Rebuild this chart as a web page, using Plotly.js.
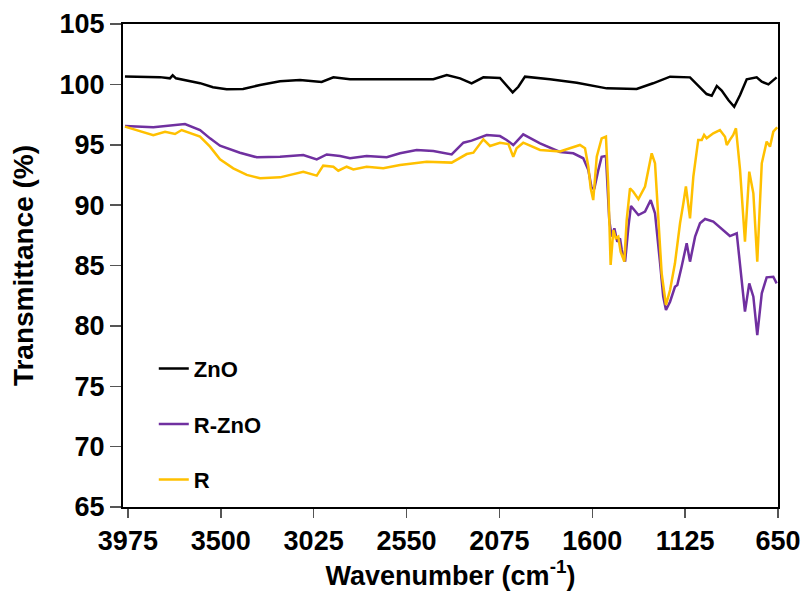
<!DOCTYPE html>
<html>
<head>
<meta charset="utf-8">
<script src="https://cdn.plot.ly/plotly-3.0.1.min.js"></script>
<style>html,body{margin:0;padding:0;background:#fff;}#chart{width:804px;height:596px;}</style>
</head>
<body>
<div id="chart"></div>
<script>
// Wavenumber (cm-1) and transmittance (%)
const znoWn = [3990,3811,3760,3746,3729,3674,3606,3540,3470,3386,3299,3197,3095,2984,2924,2839,2670,2583,2413,2344,2276,2217,2157,2072,2038,2007,1978,1944,1816,1679,1526,1373,1289,1202,1100,1049,1015,989,963,938,904,874,844,810,759,733,699,657];
const znoT  = [100.65,100.6,100.5,100.75,100.5,100.3,100.1,99.76,99.6,99.62,99.95,100.25,100.36,100.2,100.58,100.42,100.42,100.46,100.42,100.78,100.5,100.09,100.58,100.53,99.95,99.34,99.8,100.64,100.42,100.14,99.67,99.62,100.09,100.64,100.58,99.76,99.2,99.06,99.87,99.48,98.7,98.15,99.12,100.42,100.58,100.22,100.0,100.58];

const rznoWn = [3990,3845,3683,3606,3555,3504,3402,3316,3197,3078,3009,2958,2890,2839,2754,2651,2583,2498,2413,2319,2259,2217,2140,2072,2038,2004,1953,1867,1765,1697,1646,1620,1603,1589,1569,1552,1530,1513,1501,1487,1472,1458,1449,1432,1415,1402,1364,1330,1301,1279,1253,1237,1223,1202,1177,1165,1143,1117,1100,1074,1049,1023,981,930,896,861,836,819,797,776,756,733,708,674,657];
const rznoT  = [96.55,96.44,96.72,96.22,95.53,94.92,94.34,93.96,94.0,94.15,93.79,94.2,94.07,93.88,94.07,93.96,94.3,94.57,94.48,94.2,95.17,95.34,95.81,95.72,95.4,94.98,95.86,95.12,94.4,94.29,93.88,92.9,91.39,91.4,92.9,94.0,94.07,88.77,87.39,88.08,86.97,87.25,86.28,85.32,88.22,89.93,89.18,89.46,90.42,89.32,85.18,82.42,81.32,82.0,83.24,83.38,84.9,86.84,85.32,87.39,88.5,88.85,88.63,87.94,87.44,87.67,84.07,81.18,83.52,82.42,79.24,82.7,84.02,84.07,83.52];

const rWn = [3990,3913,3845,3785,3734,3700,3657,3606,3555,3504,3436,3367,3299,3197,3078,3009,2976,2924,2899,2856,2822,2754,2669,2583,2447,2319,2242,2208,2157,2123,2072,2029,2004,1987,1953,1867,1765,1697,1663,1637,1620,1608,1595,1577,1552,1530,1518,1506,1492,1480,1467,1455,1436,1424,1407,1390,1364,1330,1313,1296,1279,1262,1245,1223,1202,1177,1151,1134,1121,1100,1083,1058,1040,1028,1015,981,947,921,912,896,879,865,844,819,797,776,756,733,708,691,674,654];
const rT  = [96.5,96.14,95.8,96.08,95.89,96.22,95.95,95.67,94.84,93.79,93.05,92.5,92.22,92.3,92.77,92.44,93.27,93.18,92.85,93.18,92.96,93.18,93.05,93.32,93.6,93.52,94.23,94.34,95.45,94.9,95.17,95.06,94.01,94.71,95.17,94.57,94.45,94.79,94.98,94.71,93.18,91.39,90.42,94.01,95.53,95.67,91.54,85.04,87.94,87.25,87.39,86.14,85.32,88.77,91.39,91.11,90.5,91.54,92.9,94.29,93.46,88.77,84.35,81.73,82.97,85.18,88.5,90.15,91.54,88.91,92.36,95.4,95.4,95.81,95.53,95.95,96.22,95.67,94.98,95.4,95.81,96.36,92.9,86.97,92.77,90.98,85.32,93.46,95.26,94.84,96.08,96.44];

const seriesNames = ["ZnO","R-ZnO","R"];
const xTicks = [3975,3500,3025,2550,2075,1600,1125,650];
const yTicks = [65,70,75,80,85,90,95,100,105];

const FONT = "Liberation Sans, Arial, sans-serif";
const traces = [
  {x: znoWn, y: znoT, name: seriesNames[0], legendgroup: "a", line: {color: "#000000", width: 2.5}},
  {x: rznoWn, y: rznoT, name: seriesNames[1], legendgroup: "b", line: {color: "#7030A0", width: 2.5}},
  {x: rWn, y: rT, name: seriesNames[2], legendgroup: "c", line: {color: "#FFC000", width: 2.5}}
].map(t => Object.assign({type: "scatter", mode: "lines", hoverinfo: "skip"}, t));

const layout = {
  width: 804, height: 596,
  margin: {l: 123, r: 26, t: 24, b: 89},
  paper_bgcolor: "#fff", plot_bgcolor: "#fff",
  font: {family: FONT, color: "#000"},
  showlegend: true,
  legend: {
    x: 0.047, y: 0.33, xanchor: "left", yanchor: "top",
    bgcolor: "rgba(0,0,0,0)", borderwidth: 0,
    font: {family: FONT, size: 22, color: "#000", weight: "bold"},
    tracegroupgap: 24, itemwidth: 30
  },
  xaxis: {
    range: [4000, 650], tickvals: xTicks, ticktext: xTicks.map(String),
    showgrid: false, zeroline: false,
    showline: true, linecolor: "#000", linewidth: 2, mirror: true,
    ticks: "outside", ticklen: 9, tickwidth: 1.5, tickcolor: "#555",
    tickfont: {family: FONT, size: 27, color: "#000", weight: "bold"},
    title: {text: "Wavenumber (cm<sup>-1</sup>)", font: {family: FONT, size: 27, color: "#000", weight: "bold"}, standoff: 8}
  },
  yaxis: {
    range: [65, 105], tickvals: yTicks, ticktext: yTicks.map(String),
    showgrid: false, zeroline: false,
    showline: true, linecolor: "#000", linewidth: 2, mirror: true,
    ticks: "outside", ticklen: 11, tickwidth: 1.5, tickcolor: "#555",
    tickfont: {family: FONT, size: 27, color: "#000", weight: "bold"},
    title: {text: "Transmittance (%)", font: {family: FONT, size: 28, color: "#000", weight: "bold"}, standoff: 18}
  }
};

Plotly.newPlot("chart", traces, layout, {displayModeBar: false, staticPlot: true});
</script>
</body>
</html>
